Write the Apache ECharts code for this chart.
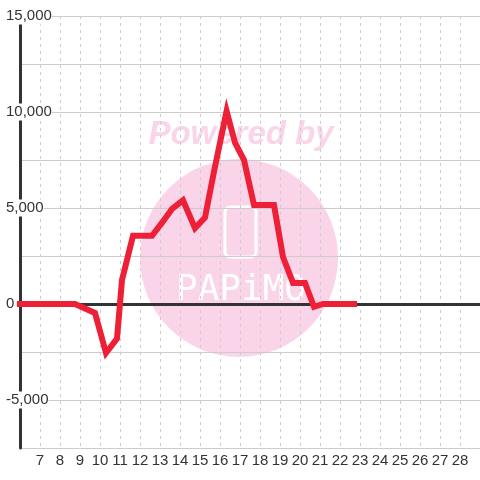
<!DOCTYPE html>
<html>
<head>
<meta charset="utf-8">
<script src="https://cdn.jsdelivr.net/npm/echarts@6/dist/echarts.min.js"></script>
<style>
  html, body { margin: 0; padding: 0; background: #fff; }
  #chart { width: 480px; height: 480px; }
</style>
</head>
<body>
<div id="chart"></div>
<script>
// x positions (day of month) and values
const days = [6, 8.75, 9.75, 10.3, 10.85, 11.1, 11.65, 12.6, 13.15, 13.6, 14.15, 14.75, 15.25, 15.7, 16.33, 16.75, 17.2, 17.7, 18.7, 19.15, 19.65, 20.25, 20.7, 21.15, 22.7]
const values = [0, 0, -470, -2550, -1800, 1250, 3550, 3550, 4300, 4950, 5400, 3950, 4500, 6900, 10050, 8400, 7500, 5150, 5150, 2450, 1100, 1100, -150, 0, 0]

// axis ranges / ticks
const dayRange = [6, 29]
const valueRange = [-7500, 15000]
const valueStep = 2500
const labelStep = 5000

const chart = echarts.init(document.getElementById('chart'))

const fmt = v => v.toString().replace(/\B(?=(\d{3})+(?!\d))/g, ',')

const option = {
  animation: false,
  backgroundColor: '#fff',
  grid: { left: 20, right: 0, top: 16, bottom: 32 },
  graphic: [
    { type: 'circle', z: -1, shape: { cx: 239, cy: 258, r: 99 }, style: { fill: '#fad5ea' } },
    {
      type: 'text', z: -1, x: 241, y: 135,
      style: { text: 'Powered by', fill: '#fad5ea', font: 'italic bold 33px "Liberation Sans"', textAlign: 'center', textVerticalAlign: 'middle' }
    },
    {
      type: 'rect', z: -1, shape: { x: 225, y: 207, width: 31, height: 50, r: 5 },
      style: { fill: 'none', stroke: '#fff', lineWidth: 3 }
    },
    {
      type: 'text', z: -1, x: 241, y: 291,
      style: { text: 'PAPiMO', fill: '#fff', font: '36px "DejaVu Sans Mono"', textAlign: 'center', textVerticalAlign: 'middle' }
    }
  ],
  xAxis: [
    {
      type: 'value',
      min: dayRange[0],
      max: dayRange[1],
      interval: 1,
      axisLine: { show: false, onZero: false },
      axisTick: { show: false },
      axisLabel: {
        color: '#333',
        fontSize: 15,
        fontFamily: 'Liberation Sans',
        margin: 5,
        showMinLabel: false,
        showMaxLabel: false
      },
      splitLine: { show: true, lineStyle: { color: '#ccc', width: 1, type: [3, 4] } }
    },
    {
      // zero line
      type: 'value',
      min: dayRange[0],
      max: dayRange[1],
      position: 'top',
      axisLine: { show: true, onZero: true, lineStyle: { color: '#333', width: 3 } },
      axisTick: { show: false },
      axisLabel: { show: false },
      splitLine: { show: false }
    }
  ],
  yAxis: {
    type: 'value',
    min: valueRange[0],
    max: valueRange[1],
    interval: valueStep,
    axisLine: { show: true, onZero: false, lineStyle: { color: '#333', width: 3 } },
    axisTick: { show: false },
    axisLabel: {
      color: '#333',
      fontSize: 15,
      fontFamily: 'Liberation Sans',
      align: 'left',
      margin: 14,
      backgroundColor: '#fff',
      padding: [1, 0],
      formatter: v => (v % labelStep === 0 ? fmt(v) : '')
    },
    splitLine: { show: true, lineStyle: { color: '#ccc', width: 1 } }
  },
  series: [
    {
      type: 'line',
      xAxisIndex: 0,
      data: days.map((d, i) => [d, values[i]]),
      showSymbol: false,
      symbol: 'none',
      z: 3,
      lineStyle: { color: '#ee2037', width: 6, cap: 'square', join: 'miter' }
    }
  ]
}

chart.setOption(option)
</script>
</body>
</html>
